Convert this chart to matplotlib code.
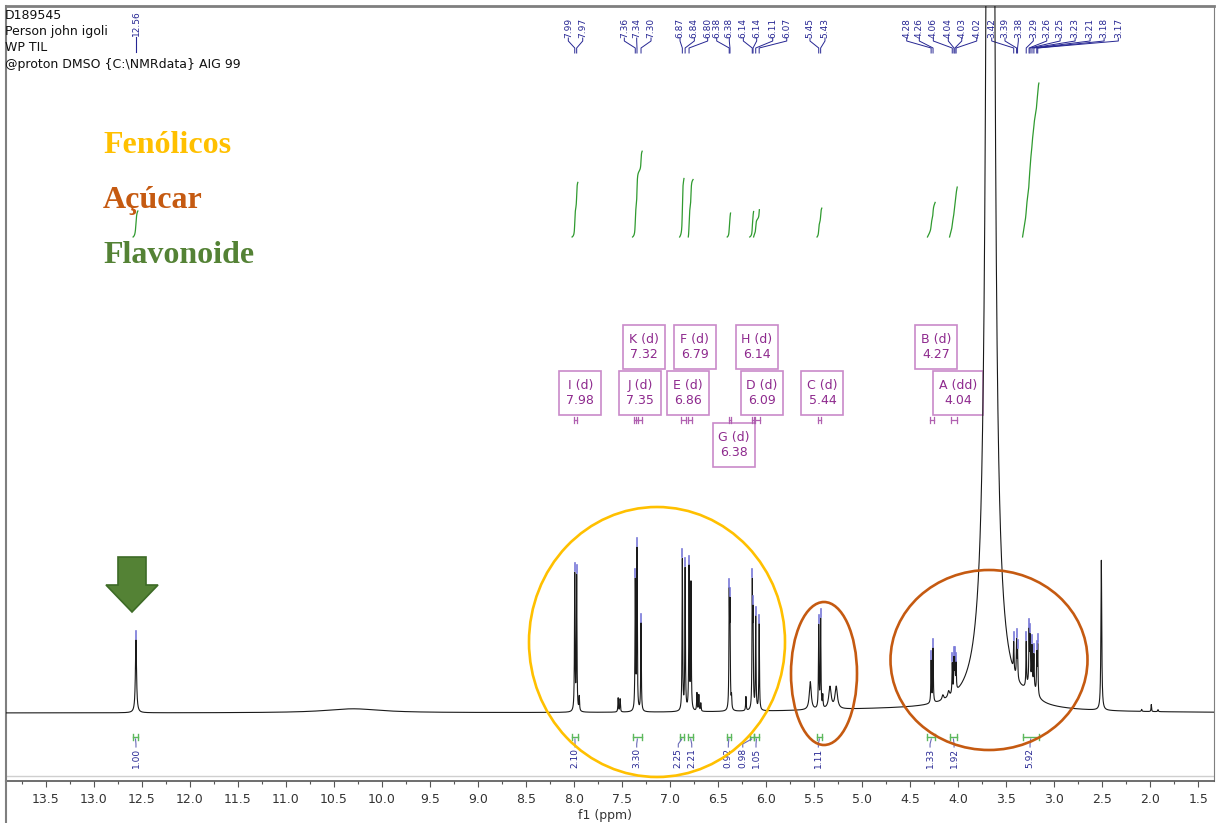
import numpy as np
import matplotlib.pyplot as plt
from matplotlib.patches import Ellipse, Rectangle, Polygon
from matplotlib.lines import Line2D

W, H = 1219, 823

# picked peaks (ppm) and their heights
pick_ppm = [12.560, 7.992, 7.972, 7.362, 7.344, 7.302, 6.872, 6.843, 6.802,
            6.384, 6.376, 6.144, 6.136, 6.108, 6.072, 5.452, 5.432,
            4.282, 4.262, 4.062, 4.044, 4.034, 4.022, 3.422, 3.392, 3.382,
            3.292, 3.262, 3.252, 3.232, 3.212, 3.182, 3.172]
pick_h = [73, 136, 134, 128, 160, 88, 151, 141, 142,
          108, 96, 118, 85, 92, 86, 82, 88,
          42, 54, 30, 32, 30, 26, 28, 36, 26,
          44, 50, 42, 36, 32, 38, 48]
pick_w = [0.007] + [0.0035] * 32

# lines not picked: small signals, OH humps, water, DMSO
extra_ppm = [10.30, 7.945, 7.540, 7.520, 6.782, 6.720, 6.700, 6.680, 6.360, 6.210,
             5.540, 5.410, 5.335, 5.270, 4.800, 4.160, 4.100, 3.665, 3.665, 3.240,
             2.510, 2.090, 1.990, 1.920]
extra_h = [4, 14, 14, 13, 126, 18, 16, 8, 12, 14,
           28, 12, 22, 22, 3, 5, 6, 4050, 38, 15,
           150, 2, 7, 2]
extra_w = [0.35, 0.0035, 0.0035, 0.0035, 0.0035, 0.0035, 0.0035, 0.0035, 0.0035, 0.0035,
           0.012, 0.0035, 0.015, 0.015, 1.2, 0.01, 0.01, 0.021, 0.15, 0.05,
           0.005, 0.004, 0.003, 0.004]

# integrals
int_from = [12.59, 8.02, 7.39, 6.90, 6.81, 6.405, 6.17, 6.13, 5.47, 4.32, 4.09, 3.33]
int_to = [12.54, 7.96, 7.29, 6.855, 6.76, 6.37, 6.13, 6.07, 5.42, 4.24, 4.01, 3.16]
int_val = [1.00, 2.10, 3.30, 2.25, 2.21, 0.92, 0.98, 1.05, 1.11, 1.33, 1.92, 5.92]

# multiplet analysis
mult_name = ['I', 'J', 'K', 'E', 'F', 'G', 'H', 'D', 'C', 'B', 'A']
mult_kind = ['d', 'd', 'd', 'd', 'd', 'd', 'd', 'd', 'd', 'd', 'dd']
mult_ppm = [7.98, 7.35, 7.32, 6.86, 6.79, 6.38, 6.14, 6.09, 5.44, 4.27, 4.04]
mult_lo = [7.965, 7.335, 7.29, 6.835, 6.77, 6.37, 6.13, 6.06, 5.425, 4.25, 4.01]
mult_hi = [8.00, 7.37, 7.35, 6.885, 6.815, 6.39, 6.15, 6.12, 5.46, 4.295, 4.07]

# where the annotation texts sit
pick_lab_x = [8.059, 7.909, 7.476, 7.347, 7.198, 6.896, 6.747, 6.608, 6.514, 6.383,
              6.237, 6.098, 5.931, 5.785, 5.543, 5.387, 4.536, 4.405, 4.259, 4.103,
              3.963, 3.807, 3.651, 3.513, 3.374, 3.218, 3.078, 2.939, 2.783, 2.627,
              2.481, 2.333]
int_lab_x = [12.560, 7.989, 7.347, 6.914, 6.774, 6.393, 6.243, 6.105, 5.456, 4.293, 4.043, 3.252]
box_x = [7.934, 7.310, 7.275, 6.815, 6.742, 6.337, 6.095, 6.046, 5.413, 4.229, 3.999]
box_y = [320, 320, 366, 320, 366, 268, 366, 320, 320, 366, 320]

navy = '#262693'
purple = '#8e2a8e'
green = '#2f9a2f'


def lor(x, c, h, w):
    return h * w ** 2 / ((x - c) ** 2 + w ** 2)


ppm = np.linspace(13.92, 1.33, 126000)
spec = np.zeros_like(ppm)
for c, h, w in zip(pick_ppm, pick_h, pick_w):
    spec += lor(ppm, c, h, w)
for c, h, w in zip(extra_ppm, extra_h, extra_w):
    spec += lor(ppm, c, h, w)


def spec_at(v):
    return np.interp(v, ppm[::-1], spec[::-1])


fig = plt.figure(figsize=(W / 100, H / 100), dpi=100)
ax = fig.add_axes([6 / W, 1 - 781 / H, 1208 / W, 775 / H])
ax.set_xlim(13.913, 1.337)
ax.set_ylim(-68, 707)

ax.plot(ppm, spec, color='#1a1a1a', lw=0.8, zorder=3)
ax.axhline(-63, color='#cfcfcf', lw=1)

# ticks on the peak tops
for v in pick_ppm:
    t = spec_at(v)
    ax.plot([v, v], [t + 1, t + 9], color='#7878d8', lw=1.2, zorder=4)

# peak labels at the top
ax.text(pick_ppm[0], 677, f"{pick_ppm[0]:.2f}", rotation=90, ha='center', va='bottom',
        fontsize=6.5, color=navy)
ax.plot([pick_ppm[0], pick_ppm[0]], [676, 661], color=navy, lw=0.8)
for v, lx in zip(pick_ppm[1:], pick_lab_x):
    ax.text(lx, 675, f"{v:.2f}", rotation=90, ha='center', va='bottom',
            fontsize=6.5, color=navy)
    ax.plot([lx, lx, v, v], [675, 672, 665, 660], color=navy, lw=0.7)

# integral curves
for a, b, val in zip(int_from, int_to, int_val):
    m = (ppm <= a) & (ppm >= b)
    c = np.cumsum(spec[m])
    c = c / c[-1]
    ax.plot(ppm[m], 476 + 26 * val * c, color=green, lw=0.9)

# integral ranges and values along the bottom
for a, b, val, lx in zip(int_from, int_to, int_val, int_lab_x):
    mid = (a + b) / 2
    ax.plot([a, b], [-24, -24], color='#5cb85c', lw=1)
    ax.plot([a, a], [-21, -27], color='#5cb85c', lw=1)
    ax.plot([b, b], [-21, -27], color='#5cb85c', lw=1)
    ax.plot([mid, lx, lx], [-26, -31, -34], color='#6a6ab8', lw=0.8)
    ax.text(lx, -35, f"{val:.2f}", rotation=90, ha='center', va='top',
            fontsize=6.5, color=navy)

# multiplet boxes
for name, kind, v, lo, hi, bx, by in zip(mult_name, mult_kind, mult_ppm, mult_lo,
                                         mult_hi, box_x, box_y):
    bw = (34 + 8 * len(kind)) / 96.05
    ax.add_patch(Rectangle((bx - bw / 2, by - 22), bw, 44, fill=False,
                           ec='#c98ac9', lw=1.2))
    ax.text(bx, by, f"{name} ({kind})\n{v:.2f}", ha='center', va='center',
            fontsize=9, color=purple, linespacing=1.25)
    ax.plot([lo, hi], [293, 293], color='#b060b0', lw=0.9)
    ax.plot([lo, lo], [290, 296], color='#b060b0', lw=0.9)
    ax.plot([hi, hi], [290, 296], color='#b060b0', lw=0.9)

ax.set_xticks(np.arange(13.5, 1.4, -0.5))
ax.set_xticklabels([f"{t:.1f}" for t in np.arange(13.5, 1.4, -0.5)])
ax.set_xticks(np.arange(13.75, 1.3, -0.25), minor=True)
ax.tick_params(axis='x', which='major', length=4.5, width=0.8, color='#555555',
               labelsize=9, labelcolor='#333333', pad=4)
ax.tick_params(axis='x', which='minor', length=2.2, width=0.8, color='#555555')
ax.set_yticks([])
for s in ['top', 'left', 'right']:
    ax.spines[s].set_color('#7f7f7f')
ax.spines['top'].set_linewidth(2)
ax.spines['left'].set_linewidth(1.5)
ax.spines['bottom'].set_color('#555555')
ax.spines['bottom'].set_linewidth(1.2)
fig.add_artist(Line2D([6 / W, 6 / W], [0, 1 - 781 / H], transform=fig.transFigure,
                      color='#7f7f7f', lw=1.5))
fig.text(605 / W, 1 - 815 / H, 'f1 (ppm)', ha='center', va='center', fontsize=9,
         color='#333333')

# overlay in pixel units for the header, legend, arrow and groups
deco = fig.add_axes([0, 0, 1, 1])
deco.set_xlim(0, W)
deco.set_ylim(H, 0)
deco.axis('off')

header = ['D189545', 'Person john igoli', 'WP TIL', r'@proton DMSO {C:\NMRdata} AIG 99']
for i, line in enumerate(header):
    deco.text(5, 15 + 16.4 * i, line, fontsize=9, ha='left', va='center', color='#111111')

legend = [('Fenólicos', '#FFC000'), ('Açúcar', '#C55A11'), ('Flavonoide', '#548235')]
for i, (lab, col) in enumerate(legend):
    deco.text(103, 153 + 55 * i, lab, fontsize=23, fontweight='bold',
              family='Liberation Serif', color=col, ha='left', va='baseline')

deco.add_patch(Polygon([(118, 557), (146, 557), (146, 585), (158, 585), (132, 612),
                        (106, 585), (118, 585)], closed=True, fc='#548235',
                       ec='#3d6b26', lw=1.2))

deco.add_patch(Ellipse((657, 642), 256, 270, fill=False, ec='#FFC000', lw=1.9))
deco.add_patch(Ellipse((824, 673.5), 66, 143, fill=False, ec='#C55A11', lw=1.9))
deco.add_patch(Ellipse((989, 660), 197, 180, fill=False, ec='#C55A11', lw=1.9))

fig.savefig('out.png', dpi=100)
